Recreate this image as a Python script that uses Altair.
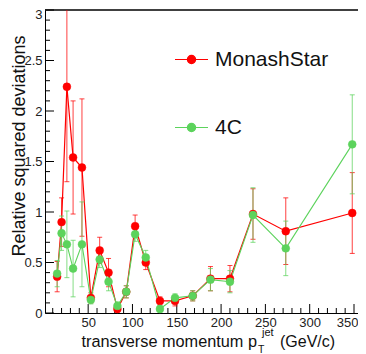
import altair as alt
import pandas as pd

# ---- data ----
pt = [15, 20, 26, 33, 43, 53, 63, 73, 83, 93, 103, 115, 131, 148, 168, 188, 210, 236, 273, 348]
monash_val = [0.36, 0.90, 2.24, 1.54, 1.44, 0.15, 0.62, 0.40, 0.04, 0.21, 0.86, 0.50, 0.12, 0.12, 0.17, 0.34, 0.34, 0.98, 0.81, 0.99]
monash_err = [0.15, 0.24, 0.94, 0.56, 0.68, 0.05, 0.13, 0.14, 0.04, 0.06, 0.11, 0.07, 0.04, 0.05, 0.05, 0.12, 0.13, 0.25, 0.33, 0.40]
c4_val = [0.39, 0.79, 0.68, 0.44, 0.68, 0.13, 0.53, 0.31, 0.07, 0.21, 0.78, 0.55, 0.04, 0.15, 0.17, 0.33, 0.31, 0.97, 0.64, 1.67]
c4_err = [0.13, 0.17, 0.33, 0.28, 0.42, 0.04, 0.08, 0.09, 0.04, 0.06, 0.07, 0.07, 0.03, 0.04, 0.05, 0.11, 0.11, 0.27, 0.27, 0.49]
series = ["MonashStar", "4C"]
colors = ["#ff0000", "#5cd35c"]

x_major = [50, 100, 150, 200, 250, 300, 350]
x_minor = [v for v in range(10, 351, 10) if v % 50 != 0]
x_labels = [50, 100, 150, 200, 250, 300, 350]
y_major = [0, 0.5, 1, 1.5, 2, 2.5, 3]
y_minor = [round(i * 0.1, 1) for i in range(31) if i % 5 != 0]

W, H = 313, 303
FONT = "Liberation Sans"

rows = []
for name, vals, errs in [("MonashStar", monash_val, monash_err), ("4C", c4_val, c4_err)]:
    for x, v, e in zip(pt, vals, errs):
        rows.append({"model": name, "pt": x, "val": v, "lo": v - e, "hi": v + e})
df = pd.DataFrame(rows)

xs = alt.Scale(domain=[1.3, 354.5], nice=False, zero=False)
ys = alt.Scale(domain=[0, 3], nice=False, zero=False)
cs = alt.Scale(domain=series, range=colors)

layers = []
for name, col, op, lw in [("MonashStar", colors[0], 0.75, 1.2), ("4C", colors[1], 0.75, 1.1)]:
    d = df[df.model == name]
    base = alt.Chart(d)
    layers.append(base.mark_rule(color=col, opacity=op, strokeWidth=1, clip=True).encode(
        x=alt.X("pt:Q", scale=xs), y=alt.Y("lo:Q", scale=ys), y2="hi:Q"))
    layers.append(base.mark_tick(color=col, opacity=op, orient="horizontal", size=5, thickness=1, clip=True).encode(
        x=alt.X("pt:Q", scale=xs), y=alt.Y("hi:Q", scale=ys)))
    layers.append(base.mark_tick(color=col, opacity=op, orient="horizontal", size=5, thickness=1, clip=True).encode(
        x=alt.X("pt:Q", scale=xs), y=alt.Y("lo:Q", scale=ys)))
    layers.append(base.mark_line(color=col, strokeWidth=lw).encode(
        x=alt.X("pt:Q", scale=xs), y=alt.Y("val:Q", scale=ys)))

legend = alt.Legend(
    title=None, orient="none", legendX=129, legendY=32, padding=0,
    symbolType="M-1,0L1,0M0.25,0A0.25,0.25,0,1,1,-0.25,0A0.25,0.25,0,1,1,0.25,0Z",
    symbolSize=1089, symbolStrokeWidth=1.2, symbolOpacity=1,
    labelFont=FONT, labelFontSize=21, labelColor="#111", labelOffset=6,
    rowPadding=40,
)
points = alt.Chart(df).mark_point(filled=True, size=62, opacity=1, strokeWidth=0.5).encode(
    x=alt.X("pt:Q", scale=xs, axis=alt.Axis(values=x_labels, format="d", ticks=False, grid=False, title=None,
                                             labelFont=FONT, labelFontSize=13, labelColor="#222",
                                             labelPadding=3, labelFlush=False, domainColor="#000",
                                             domainWidth=1,
                                             labelOffset={"condition": {"test": "datum.value == 350", "value": -7}, "value": 0})),
    y=alt.Y("val:Q", scale=ys, axis=alt.Axis(values=y_major, format="~g", ticks=False, grid=False, title=None,
                                              labelFont=FONT, labelFontSize=13, labelColor="#222",
                                              labelPadding=3, labelFlush=False, domainColor="#000",
                                              domainWidth=1,
                                              labelOffset={"condition": {"test": "datum.value == 3", "value": 4}, "value": 0})),
    fill=alt.Fill("model:N", scale=cs, legend=legend),
    stroke=alt.Stroke("model:N", scale=cs, legend=legend),
    order=alt.Order("ord:Q"),
).transform_calculate(ord="datum.model == 'MonashStar' ? 0 : 1")

# inward ticks
xmaj = alt.Chart(pd.DataFrame({"v": x_major})).mark_rule(color="#000", strokeWidth=1).encode(
    x=alt.X("v:Q", scale=xs), y=alt.value(H), y2=alt.value(H - 9))
xmin = alt.Chart(pd.DataFrame({"v": x_minor})).mark_rule(color="#000", strokeWidth=1).encode(
    x=alt.X("v:Q", scale=xs), y=alt.value(H), y2=alt.value(H - 5))
ymaj = alt.Chart(pd.DataFrame({"v": y_major})).mark_rule(color="#000", strokeWidth=1).encode(
    y=alt.Y("v:Q", scale=ys), x=alt.value(0), x2=alt.value(9))
ymin = alt.Chart(pd.DataFrame({"v": y_minor})).mark_rule(color="#000", strokeWidth=1).encode(
    y=alt.Y("v:Q", scale=ys), x=alt.value(0), x2=alt.value(5))
top = alt.Chart(pd.DataFrame({"v": [0]})).mark_rule(color="#000", strokeWidth=1.5).encode(
    x=alt.value(0), x2=alt.value(W), y=alt.value(0))

# axis titles
def txt(s, x, y, size, align="left", angle=0):
    return alt.Chart(pd.DataFrame({"t": [s]})).mark_text(
        font=FONT, fontSize=size, align=align, baseline="alphabetic", angle=angle, color="#111"
    ).encode(text="t:N", x=alt.value(x), y=alt.value(y))

titles = [
    txt("Relative squared deviations", -20.5, 136, 18, align="center", angle=270),
    txt("transverse momentum p", 212, 336.5, 16.3, align="right"),
    txt("jet", 217, 326, 11),
    txt("T", 213, 343, 10.5),
    txt("(GeV/c)", 235, 336.5, 16),
]

chart = alt.layer(xmin, xmaj, ymin, ymaj, top, *layers, points, *titles).properties(
    width=W, height=H,
    autosize=alt.AutoSizeParams(type="none"),
    padding={"left": 37, "top": 2, "right": 0, "bottom": 41},
).configure_view(stroke=None).resolve_scale(x="shared", y="shared")

chart.save("out.html", embed_options={"renderer": "svg", "actions": False})
